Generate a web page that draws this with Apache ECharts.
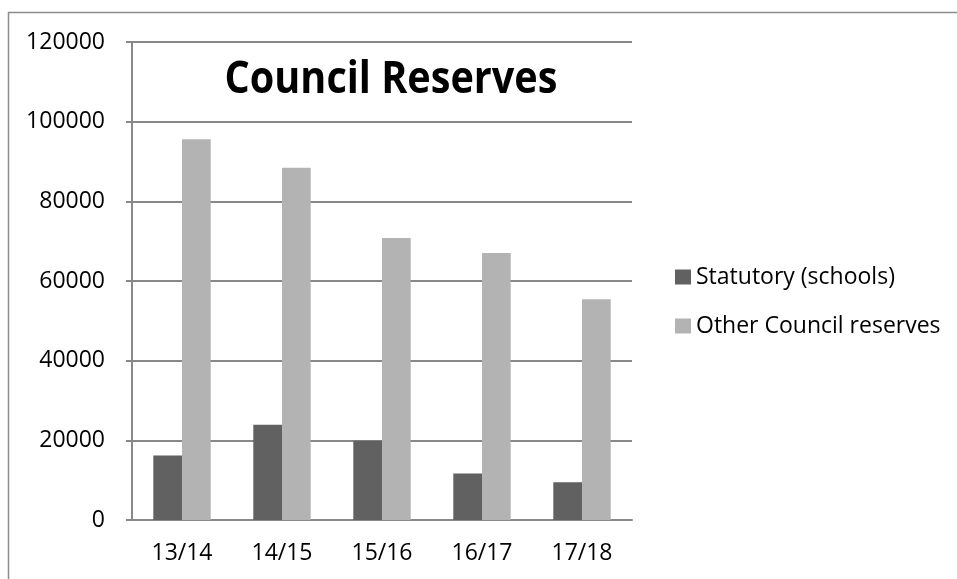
<!DOCTYPE html>
<html>
<head>
<meta charset="utf-8">
<script src="https://cdn.jsdelivr.net/npm/echarts@6/dist/echarts.min.js"></script>
<style>
  html, body { margin: 0; padding: 0; background: #fff; }
  #chart { width: 957px; height: 579px; }
</style>
</head>
<body>
<div id="chart"></div>
<script>
// data
var years = ['13/14', '14/15', '15/16', '16/17', '17/18'];
var statutory = [16200, 23900, 19900, 11700, 9500];
var otherReserves = [95600, 88400, 70800, 67000, 55400];
var seriesNames = ['Statutory (schools)', 'Other Council reserves'];

var chart = echarts.init(document.getElementById('chart'));
var font = 'Open Sans';

chart.setOption({
  animation: false,
  color: ['#616161', '#b3b3b3'],
  graphic: [{
    type: 'rect',
    shape: { x: 8.5, y: 12.5, width: 1200, height: 1200 },
    style: { fill: 'none', stroke: '#8c8c8c', lineWidth: 1.5 }
  }, {
    // title, squeezed a bit to look like the narrow original face
    type: 'text',
    x: 391,
    y: 80,
    scaleX: 0.88,
    style: {
      text: 'Council Reserves',
      font: 'bold 45px "Open Sans"',
      fill: '#000',
      align: 'center',
      verticalAlign: 'middle'
    },
    z: 10
  }],
  grid: {
    left: 132,
    right: 325,
    top: 42,
    bottom: 59,
    containLabel: false
  },
  legend: {
    orient: 'vertical',
    left: 675,
    top: 264,
    padding: 0,
    itemWidth: 16,
    itemHeight: 15,
    itemGap: 23,
    icon: 'rect',
    textStyle: { fontFamily: font, fontSize: 23, color: '#000', lineHeight: 26 },
    data: seriesNames
  },
  xAxis: {
    type: 'category',
    data: years,
    axisLine: { lineStyle: { color: '#888', width: 2 } },
    axisTick: { length: 6, lineStyle: { color: '#888', width: 2 } },
    axisLabel: { fontFamily: font, fontSize: 23, color: '#000', margin: 22 }
  },
  yAxis: {
    type: 'value',
    min: 0,
    max: 120000,
    interval: 20000,
    axisLine: { show: true, lineStyle: { color: '#888', width: 2 } },
    axisTick: { show: true, length: 6, lineStyle: { color: '#888', width: 2 } },
    axisLabel: {
      fontFamily: font, fontSize: 23, color: '#000', margin: 27,
      formatter: function (v) { return String(v); }
    },
    splitLine: { lineStyle: { color: '#888', width: 2 } }
  },
  series: [{
    name: seriesNames[0],
    type: 'bar',
    data: statutory,
    barWidth: '28.7%',
    barGap: '0%'
  }, {
    name: seriesNames[1],
    type: 'bar',
    data: otherReserves,
    barWidth: '28.7%'
  }]
});
</script>
</body>
</html>
